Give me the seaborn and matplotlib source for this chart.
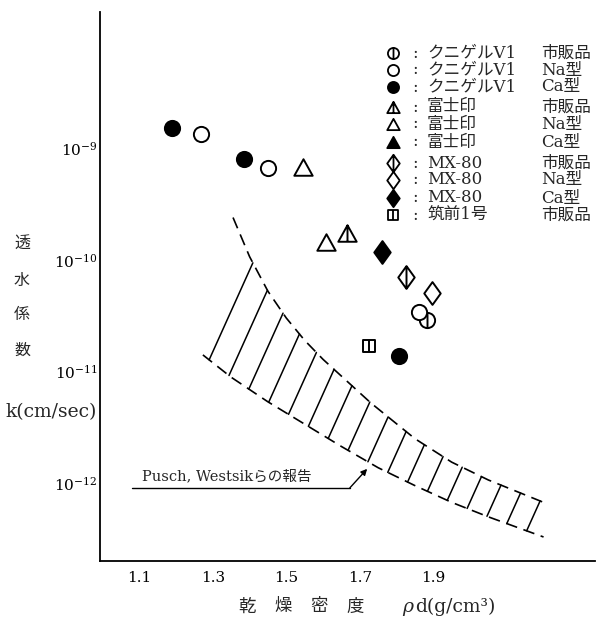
import numpy as np
import pandas as pd
import matplotlib
matplotlib.use('Agg')
import matplotlib.pyplot as plt
from matplotlib.path import Path
from matplotlib.lines import Line2D
from matplotlib.ticker import NullLocator, FixedLocator
import seaborn as sns

# dry density (g/cm3) and permeability k (cm/sec)
kunigel_raw_rho = [1.884]
kunigel_raw_k = [2.9e-11]
kunigel_na_rho = [1.267, 1.449, 1.861]
kunigel_na_k = [1.34e-9, 6.7e-10, 3.44e-11]
kunigel_ca_rho = [1.19, 1.385, 1.807]
kunigel_ca_k = [1.53e-9, 8.0e-10, 1.38e-11]
fuji_raw_rho = [1.664]
fuji_raw_k = [1.75e-10]
fuji_na_rho = [1.545, 1.607]
fuji_na_k = [6.85e-10, 1.46e-10]
fuji_ca_rho = []
fuji_ca_k = []
mx80_raw_rho = [1.825]
mx80_raw_k = [7.1e-11]
mx80_na_rho = [1.896]
mx80_na_k = [5.1e-11]
mx80_ca_rho = [1.761]
mx80_ca_k = [1.17e-10]
chikuzen_rho = [1.725]
chikuzen_k = [1.7e-11]

# Pusch, Westsik band (log10 k)
upper_rho = [1.355, 1.40, 1.45, 1.50, 1.55, 1.60, 1.65, 1.73, 1.85, 1.95, 2.05, 2.20]
upper_logk = [-9.62, -9.97, -10.28, -10.52, -10.72, -10.89, -11.04, -11.28, -11.60, -11.81, -11.97, -12.17]
lower_rho = [1.273, 1.35, 1.45, 1.55, 1.65, 1.75, 1.85, 1.95, 2.05, 2.20]
lower_logk = [-10.85, -11.05, -11.27, -11.47, -11.67, -11.86, -12.02, -12.17, -12.30, -12.48]

names = ['クニゲルV1', 'クニゲルV1', 'クニゲルV1', '富士印', '富士印', '富士印',
         'MX-80', 'MX-80', 'MX-80', '筑前1号']
kinds = ['市販品', 'Na型', 'Ca型', '市販品', 'Na型', 'Ca型',
         '市販品', 'Na型', 'Ca型', '市販品']

sns.set_theme(style='white')
plt.rcParams['font.family'] = ['DejaVu Serif', 'Noto Sans CJK JP']
plt.rcParams['mathtext.fontset'] = 'dejavuserif'


def with_bar(verts):
    # closed outline plus a vertical bar through it
    top = max(v[1] for v in verts)
    bot = min(v[1] for v in verts)
    outline = Path(verts + [verts[0]], [Path.MOVETO] + [Path.LINETO] * (len(verts) - 1) + [Path.CLOSEPOLY])
    bar = Path([(0, bot), (0, top)], [Path.MOVETO, Path.LINETO])
    return Path.make_compound_path(outline, bar)


circle = Path.unit_circle()
circle_bar = Path.make_compound_path(circle, Path([(0, -1), (0, 1)], [Path.MOVETO, Path.LINETO]))
tri_v = [(0, 0.9), (-1, -0.9), (1, -0.9)]
tri = Path(tri_v + [tri_v[0]], [Path.MOVETO, Path.LINETO, Path.LINETO, Path.CLOSEPOLY])
tri_bar = with_bar(tri_v)
dia_v = [(0, 1), (0.72, 0), (0, -1), (-0.72, 0)]
dia = Path(dia_v + [dia_v[0]], [Path.MOVETO] + [Path.LINETO] * 3 + [Path.CLOSEPOLY])
dia_bar = with_bar(dia_v)
sq_v = [(-1, -0.95), (1, -0.95), (1, 0.95), (-1, 0.95)]
sq_bar = with_bar(sq_v)

# (rho, k, marker, face, size, legend size)
groups = [
    (kunigel_raw_rho, kunigel_raw_k, circle_bar, 'white', 120, 8),
    (kunigel_na_rho, kunigel_na_k, circle, 'white', 120, 8),
    (kunigel_ca_rho, kunigel_ca_k, circle, 'black', 120, 8),
    (fuji_raw_rho, fuji_raw_k, tri_bar, 'white', 175, 9),
    (fuji_na_rho, fuji_na_k, tri, 'white', 175, 9),
    (fuji_ca_rho, fuji_ca_k, tri, 'black', 175, 9),
    (mx80_raw_rho, mx80_raw_k, dia_bar, 'white', 270, 12.5),
    (mx80_na_rho, mx80_na_k, dia, 'white', 270, 12.5),
    (mx80_ca_rho, mx80_ca_k, dia, 'black', 270, 12.5),
    (chikuzen_rho, chikuzen_k, sq_bar, 'white', 85, 7.5),
]

fig = plt.figure(figsize=(6.01, 6.19), dpi=100)
ax = fig.add_axes([100 / 601, 58 / 619, 495 / 601, 549 / 619])
ax.set_yscale('log')

# band outlines
for bx, by in [(upper_rho, upper_logk), (lower_rho, lower_logk)]:
    band = pd.DataFrame({'rho': bx, 'k': 10 ** np.array(by)})
    sns.lineplot(data=band, x='rho', y='k', ax=ax, color='black', lw=1.2,
                 linestyle=(0, (7, 4)), sort=False, estimator=None)

# hatch strokes between the two outlines
slope = 0.137  # x shift per decade


def upper_at(x):
    return np.interp(x, upper_rho, upper_logk, left=np.inf, right=-np.inf)


t = np.linspace(0, 2.5, 3000)
for x0 in np.arange(1.29, 2.17, 0.054):
    y0 = np.interp(x0, lower_rho, lower_logk)
    xs = x0 + slope * t
    ys = y0 + t
    hit = np.nonzero(upper_at(xs) - ys <= 0)[0]
    if len(hit) == 0:
        continue
    i = hit[0]
    ax.plot([x0, xs[i]], [10 ** y0, 10 ** ys[i]], color='black', lw=1.1)

# data points
for rho, k, mk, fc, s, _ in groups:
    if not rho:
        continue
    df = pd.DataFrame({'rho': rho, 'k': k})
    sns.scatterplot(data=df, x='rho', y='k', ax=ax, marker=mk, s=s,
                    facecolor=fc, edgecolor='black', linewidth=1.4, zorder=5)

# annotation
ax.text(1.107, 10 ** -11.94, 'Pusch, Westsikらの報告', fontsize=10.5, va='center', ha='left')
ax.plot([1.08, 1.673], [10 ** -12.04, 10 ** -12.04], color='black', lw=1.0)
ax.annotate('', xy=(1.72, 10 ** -11.87), xytext=(1.673, 10 ** -12.04),
            arrowprops=dict(arrowstyle='-|>', color='black', lw=1.0,
                            mutation_scale=9, shrinkA=0, shrinkB=0))

ax.set_xlim(0.993, 2.340)
ax.set_ylim(10 ** -12.695, 10 ** -7.78)
ax.xaxis.set_major_locator(FixedLocator([1.1, 1.3, 1.5, 1.7, 1.9]))
ax.set_xticklabels(['1.1', '1.3', '1.5', '1.7', '1.9'])
ax.yaxis.set_major_locator(FixedLocator([1e-12, 1e-11, 1e-10, 1e-9]))
ax.yaxis.set_minor_locator(NullLocator())
ax.tick_params(axis='both', direction='in', length=5, width=1.0,
               labelsize=11, colors='black', pad=7)
ax.tick_params(axis='y', pad=2)
ax.set_xlabel('')
ax.set_ylabel('')
sns.despine(ax=ax)
for sp in ['left', 'bottom']:
    ax.spines[sp].set_color('black')
    ax.spines[sp].set_linewidth(1.3)

# y label
for ch, py in zip('透水係数', [243, 280, 315, 350]):
    fig.text(22 / 601, 1 - py / 619, ch, fontsize=11.5, ha='center', va='center')
fig.text(51 / 601, 1 - 412 / 619, 'k(cm/sec)', fontsize=13.5, ha='center', va='center')

# x label
for ch, px in zip('乾燥密度', [247, 283, 319, 355]):
    fig.text(px / 601, 1 - 607 / 619, ch, fontsize=12.5, ha='center', va='center')
fig.text(402 / 601, 1 - 607 / 619, 'ρ', fontsize=13.5, style='italic', ha='left', va='center')
fig.text(415 / 601, 1 - 607 / 619, 'd(g/cm³)', fontsize=13.5, ha='left', va='center')

# legend
legend_y = [53, 70, 87, 107, 124, 142, 163, 180, 198, 215]
for g, nm, kd, ly in zip(groups, names, kinds, legend_y):
    py = 1 - ly / 619
    mk, fc, ms = g[2], g[3], g[5]
    fig.add_artist(Line2D([393 / 601], [py], marker=mk, markersize=ms,
                          markerfacecolor=fc, markeredgecolor='black',
                          markeredgewidth=1.3, linestyle='none',
                          transform=fig.transFigure))
    fig.text(415 / 601, py, ':', fontsize=12, ha='center', va='center')
    fig.text(427 / 601, py, nm, fontsize=12, ha='left', va='center')
    fig.text(541 / 601, py, kd, fontsize=12, ha='left', va='center')

fig.savefig('out.png', dpi=100)
